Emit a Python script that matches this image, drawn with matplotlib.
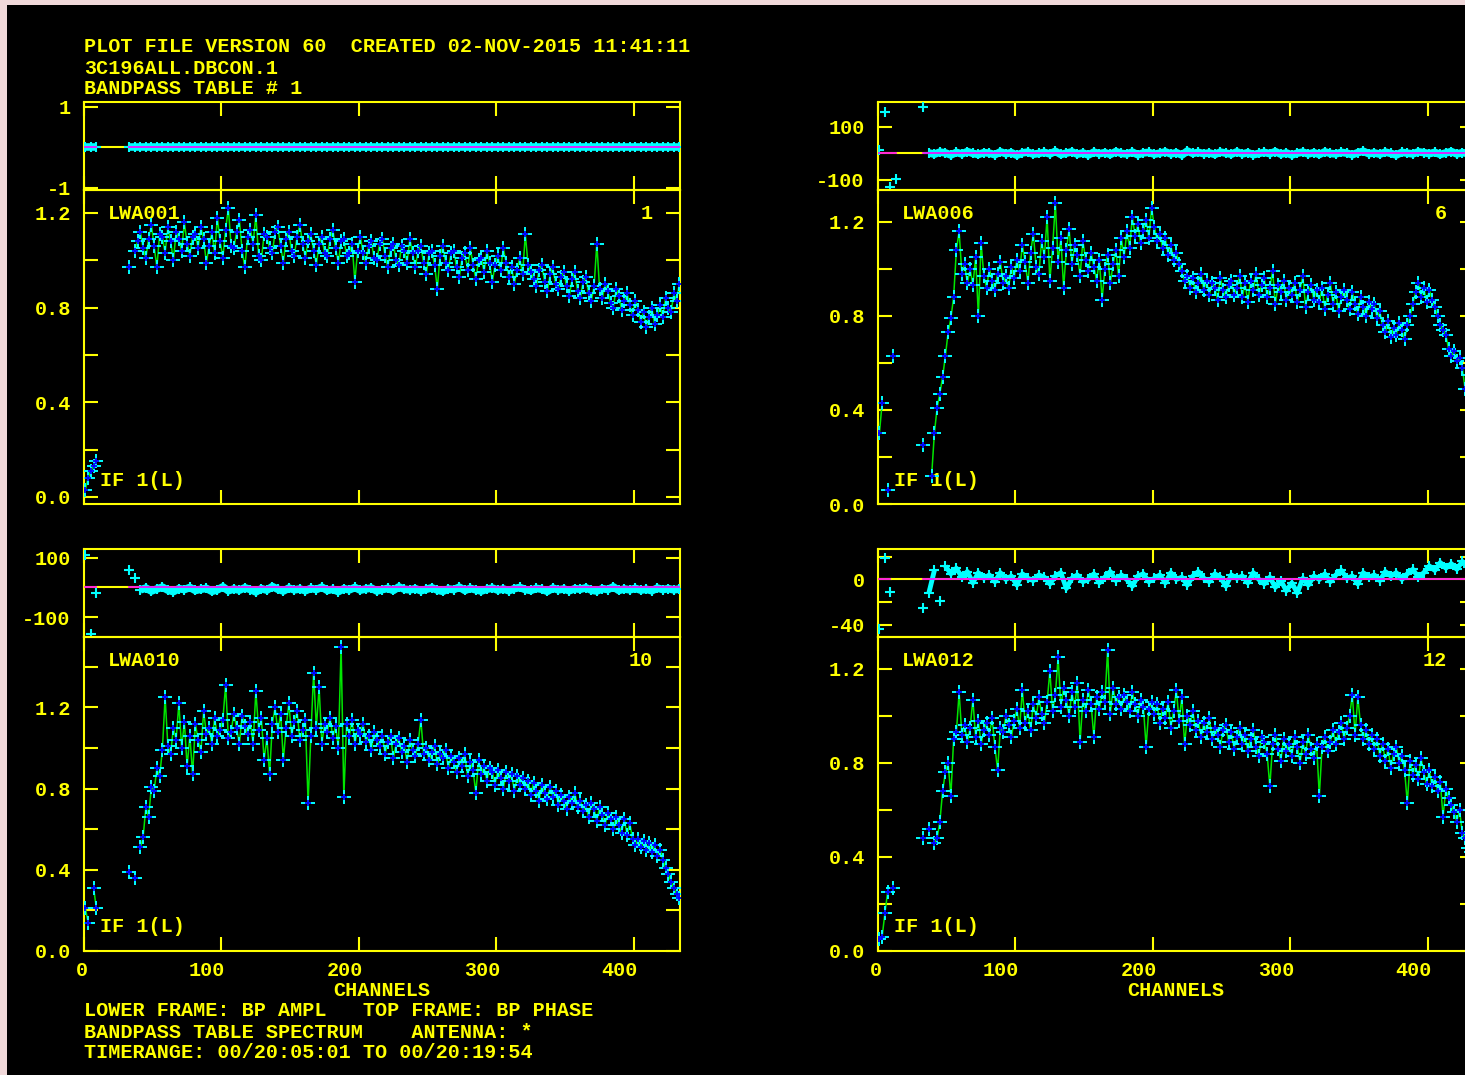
import numpy as np
import matplotlib.pyplot as plt
from matplotlib.patches import Rectangle
from matplotlib.transforms import ScaledTranslation

nan = np.nan

# channel grids: amplitude every 2nd channel, phase every 4th
amp_channels = np.arange(1, 434, 2)
pha_channels = np.arange(1, 434, 4)

antennas = ['LWA001', 'LWA006', 'LWA010', 'LWA012']
ant_numbers = ['1', '6', '10', '12']

# bandpass amplitude per antenna (one row = 20 channels)
amp_lwa001 = [0.03, 0.08, 0.11, 0.13, 0.15, nan, nan, nan, nan, nan,
              nan, nan, nan, nan, nan, nan, 0.97, nan, 1.04, 1.08,
              1.12, 1.05, 1.01, 1.09, 1.15, 1.06, 0.97, 1.11, 1.10, 1.03,
              1.14, 1.08, 1.00, 1.12, 1.09, 1.04, 1.16, 1.07, 1.02, 1.10,
              1.11, 1.05, 1.14, 1.09, 0.99, 1.06, 1.12, 1.03, 1.18, 1.08,
              1.01, 1.13, 1.22, 1.06, 1.05, 1.12, 1.17, 1.04, 0.97, 1.10,
              1.13, 1.07, 1.19, 1.02, 1.00, 1.11, 1.10, 1.05, 1.03, 1.12,
              1.14, 1.06, 0.99, 1.09, 1.12, 1.04, 1.02, 1.10, 1.15, 1.07,
              1.01, 1.08, 1.11, 1.04, 0.98, 1.07, 1.10, 1.03, 1.02, 1.09,
              1.13, 1.05, 0.99, 1.08, 1.09, 1.02, 1.03, 1.07, 0.91, 1.04,
              1.10, 1.03, 0.99, 1.06, 1.08, 1.01, 1.00, 1.07, 1.09, 1.02,
              0.97, 1.05, 1.07, 1.00, 0.98, 1.06, 1.04, 0.99, 1.09, 1.03,
              0.97, 1.04, 1.06, 0.99, 0.94, 1.03, 1.04, 0.98, 0.88, 1.02,
              1.06, 0.99, 0.96, 1.03, 1.04, 0.97, 0.93, 1.01, 1.03, 0.96,
              1.05, 0.98, 0.92, 1.00, 1.01, 0.95, 1.04, 0.99, 0.91, 0.98,
              1.02, 0.96, 1.05, 0.99, 0.93, 0.97, 0.90, 0.96, 1.01, 0.94,
              1.11, 0.98, 0.95, 0.92, 0.89, 0.96, 0.98, 0.91, 0.87, 0.94,
              0.97, 0.90, 0.88, 0.93, 0.95, 0.89, 0.85, 0.92, 0.95, 0.87,
              0.84, 0.91, 0.93, 0.86, 0.83, 0.89, 1.07, 0.88, 0.84, 0.90,
              0.87, 0.82, 0.80, 0.88, 0.85, 0.79, 0.83, 0.86, 0.81, 0.77,
              0.83, 0.79, 0.74, 0.78, 0.72, 0.76, 0.80, 0.73, 0.77, 0.81,
              0.76, 0.84, 0.80, 0.78, 0.86, 0.83, 0.90]

amp_lwa006 = [0.30, 0.43, nan, 0.06, nan, 0.63, nan, nan, nan, nan,
              nan, nan, nan, nan, nan, nan, 0.25, nan, nan, 0.12,
              0.30, 0.41, 0.47, 0.54, 0.63, 0.73, 0.79, 0.88, 1.08, 1.16,
              0.98, 1.02, 0.94, 1.00, 0.93, 1.05, 0.80, 1.11, 0.97, 0.92,
              1.00, 0.95, 0.91, 0.98, 1.03, 0.94, 0.97, 0.92, 1.01, 0.96,
              1.04, 0.99, 1.10, 1.03, 0.94, 1.07, 1.15, 1.01, 0.98, 1.12,
              1.05, 1.22, 0.95, 1.09, 1.28, 1.03, 1.13, 0.92, 1.08, 1.17,
              1.02, 1.10, 1.06, 0.97, 1.12, 1.04, 0.99, 1.07, 1.01, 0.95,
              1.04, 0.87, 1.00, 1.06, 0.94, 1.02, 1.08, 0.97, 1.13, 1.05,
              1.16, 1.09, 1.22, 1.14, 1.19, 1.11, 1.16, 1.21, 1.13, 1.26,
              1.18, 1.12, 1.15, 1.09, 1.13, 1.06, 1.10, 1.04, 1.07, 1.02,
              0.99, 0.95, 0.97, 0.92, 0.96, 0.90, 0.94, 0.98, 0.91, 0.95,
              0.89, 0.94, 0.92, 0.87, 0.96, 0.91, 0.88, 0.93, 0.95, 0.89,
              0.92, 0.97, 0.88, 0.94, 0.86, 0.95, 0.91, 0.98, 0.89, 0.93,
              0.96, 0.88, 0.92, 0.99, 0.85, 0.93, 0.90, 0.95, 0.87, 0.92,
              0.89, 0.94, 0.86, 0.91, 0.97, 0.84, 0.90, 0.93, 0.87, 0.91,
              0.86, 0.92, 0.83, 0.89, 0.94, 0.85, 0.90, 0.82, 0.88, 0.91,
              0.87, 0.83, 0.90, 0.85, 0.81, 0.88, 0.84, 0.80, 0.86, 0.83,
              0.85, 0.79, 0.82, 0.76, 0.73, 0.78, 0.71, 0.75, 0.72, 0.77,
              0.74, 0.70, 0.76, 0.80, 0.85, 0.90, 0.94, 0.88, 0.92, 0.86,
              0.91, 0.87, 0.84, 0.80, 0.76, 0.74, 0.72, 0.66, 0.63, 0.65,
              0.61, 0.62, 0.58, 0.49, 0.55, 0.47, 0.45]

amp_lwa010 = [0.21, 0.14, nan, 0.31, 0.21, nan, nan, nan, nan, nan,
              nan, nan, nan, nan, nan, nan, 0.39, nan, 0.36, nan,
              0.51, 0.56, 0.71, 0.66, 0.81, 0.79, 0.90, 0.86, 0.99, 1.25,
              1.01, 0.97, 1.10, 1.04, 1.22, 1.00, 1.13, 0.91, 1.06, 0.87,
              1.12, 1.04, 0.98, 1.18, 1.07, 1.10, 1.02, 1.15, 1.06, 1.09,
              1.14, 1.31, 1.05, 1.08, 1.17, 1.10, 1.02, 1.16, 1.11, 1.07,
              1.13, 1.02, 1.28, 1.09, 1.15, 0.94, 1.05, 0.87, 1.12, 1.20,
              1.08, 1.17, 0.94, 1.10, 1.22, 1.06, 1.13, 1.18, 1.04, 1.09,
              1.14, 0.73, 1.06, 1.37, 1.10, 1.30, 1.02, 1.12, 1.08, 1.15,
              1.05, 1.11, 1.00, 1.50, 0.76, 1.12, 1.06, 1.14, 1.02, 1.09,
              1.07, 1.12, 1.03, 1.06, 0.99, 1.08, 1.04, 1.01, 1.06, 0.97,
              1.03, 1.06, 0.95, 1.02, 1.05, 0.98, 1.01, 0.93, 1.04, 0.99,
              0.96, 1.02, 1.14, 0.97, 1.00, 0.94, 0.98, 1.01, 0.92, 0.97,
              0.95, 0.99, 0.90, 0.96, 0.93, 0.88, 0.95, 0.91, 0.97, 0.86,
              0.93, 0.89, 0.78, 0.94, 0.87, 0.91, 0.84, 0.90, 0.88, 0.82,
              0.89, 0.85, 0.80, 0.88, 0.84, 0.87, 0.79, 0.86, 0.82, 0.85,
              0.80, 0.84, 0.77, 0.83, 0.79, 0.74, 0.82, 0.78, 0.75, 0.81,
              0.76, 0.79, 0.72, 0.77, 0.74, 0.70, 0.76, 0.73, 0.78, 0.71,
              0.74, 0.69, 0.72, 0.66, 0.73, 0.70, 0.64, 0.71, 0.67, 0.62,
              0.68, 0.65, 0.60, 0.66, 0.62, 0.58, 0.65, 0.57, 0.63, 0.55,
              0.52, 0.55, 0.51, 0.54, 0.50, 0.53, 0.49, 0.52, 0.47, 0.50,
              0.45, 0.41, 0.38, 0.34, 0.31, 0.28, 0.26]

amp_lwa012 = [0.05, 0.06, 0.16, 0.25, nan, 0.27, nan, nan, nan, nan,
              nan, nan, nan, nan, nan, nan, 0.48, nan, 0.52, nan,
              0.46, 0.48, 0.55, 0.68, 0.76, 0.80, 0.66, 0.90, 0.93, 1.10,
              0.92, 0.96, 0.89, 0.95, 1.07, 0.91, 0.98, 0.88, 0.94, 0.97,
              0.92, 0.99, 0.87, 0.77, 0.95, 0.93, 1.00, 0.96, 0.91, 0.98,
              1.03, 0.95, 1.11, 0.97, 1.02, 0.94, 1.05, 0.99, 1.08, 1.01,
              0.97, 1.06, 1.19, 1.02, 1.09, 1.25, 1.04, 1.12, 1.07, 1.00,
              1.10, 1.04, 1.14, 0.89, 1.07, 1.02, 1.11, 1.05, 0.91, 1.08,
              1.03, 1.10, 1.06, 1.28, 1.01, 1.12, 1.05, 1.08, 1.03, 1.09,
              1.06, 1.02, 1.10, 1.05, 1.00, 1.07, 1.04, 0.87, 1.03, 1.06,
              1.01, 1.05, 0.97, 1.03, 0.99, 1.06, 0.95, 1.02, 1.11, 0.98,
              1.08, 0.88, 1.00, 0.96, 1.02, 0.94, 0.98, 0.91, 0.97, 0.93,
              0.99, 0.90, 0.95, 0.92, 0.87, 0.94, 0.96, 0.89, 0.93, 0.86,
              0.91, 0.95, 0.88, 0.92, 0.85, 0.90, 0.94, 0.87, 0.83, 0.91,
              0.89, 0.84, 0.70, 0.88, 0.92, 0.86, 0.81, 0.90, 0.85, 0.88,
              0.83, 0.91, 0.87, 0.80, 0.89, 0.84, 0.92, 0.86, 0.82, 0.88,
              0.66, 0.87, 0.91, 0.85, 0.89, 0.94, 0.88, 0.93, 0.97, 0.90,
              0.95, 1.00, 1.09, 0.92, 1.08, 0.96, 0.90, 0.94, 0.88, 0.92,
              0.86, 0.90, 0.83, 0.88, 0.81, 0.86, 0.78, 0.84, 0.87, 0.80,
              0.83, 0.77, 0.63, 0.81, 0.75, 0.79, 0.73, 0.82, 0.76, 0.71,
              0.77, 0.70, 0.74, 0.68, 0.72, 0.57, 0.69, 0.65, 0.62, 0.59,
              0.55, 0.60, 0.50, 0.48, 0.44, 0.42, 0.40]

# bandpass phase per antenna (LWA001 is the reference antenna)
pha_lwa001 = [0.0] * 3 + [nan] * 5 + [0.0] * 101

pha_lwa006 = [13, 157, -126, -96, nan, nan, nan, nan, 175, 2,
              -3, 5, 2, -6, 4, -2, 7, 0, -4, 3,
              1, -5, 6, -1, 3, -7, 2, 5, -3, 0,
              4, -2, 8, -4, 1, 6, -3, 2, -6, 5,
              -1, 3, -4, 7, 0, -2, 5, -5, 2, 4,
              -3, 1, 6, -2, 3, -6, 9, 0, 4, -1,
              2, -4, 5, 1, -3, 6, -2, 3, -5, 0,
              4, -1, 7, -3, 2, -6, 1, 5, -2, 3,
              -4, 6, 0, -2, 4, 1, -5, 3, 8, -1,
              2, -3, 5, 0, -6, 4, 1, -2, 6, 3,
              -1, 4, -4, 2, 7, -2, 3, 0, 5]

pha_lwa010 = [108, -155, -17, nan, nan, nan, nan, nan, 58, 31,
              -8, -2, -12, -5, 1, -9, -14, -4, -7, 0,
              -10, -6, -3, -13, -8, 2, -11, -5, -9, -1,
              -7, -15, -4, -9, 3, -6, -12, -2, -8, -5,
              -11, -3, -7, 1, -10, -6, -14, -4, -8, 0,
              -9, -5, -2, -12, -7, -3, -10, 2, -6, -8,
              -4, -11, -6, -1, -9, -13, -5, -7, 1, -10,
              -3, -8, -12, -6, -2, -9, -5, -11, -4, 0,
              -7, -10, -3, -6, -13, -2, -8, -5, -11, -4,
              -6, -1, -9, -12, -4, -7, 2, -10, -5, -8,
              -3, -9, -6, -11, -2, -7, -4, -8, -5]

pha_lwa012 = [-44, 19, -11, nan, nan, nan, nan, nan, -25, -12,
              8, -19, 12, 5, 10, 2, 7, -3, 6, 1,
              4, -2, 6, 0, 3, -5, 5, 1, -1, 4,
              2, -4, 3, 6, -8, 1, 4, -2, 0, 5,
              -3, 2, 7, -1, 4, 0, -6, 3, 5, -2,
              1, 4, -3, 6, 0, 2, -5, 3, 7, 1,
              -2, 5, 2, -6, 4, 1, 3, -3, 6, 0,
              -4, 2, -7, -1, -10, -3, -12, 1, -5, 3,
              0, 5, -2, 4, 8, 1, 3, -4, 6, 2,
              4, -1, 7, 3, 6, 0, 5, 9, 2, 6,
              12, 8, 15, 10, 14, 9, 16, 11, 13]

amp_series = [amp_lwa001, amp_lwa006, amp_lwa010, amp_lwa012]
pha_series = [pha_lwa001, pha_lwa006, pha_lwa010, pha_lwa012]

x_ticks = [0, 100, 200, 300, 400]
x_tick_labels = ['0', '100', '200', '300', '400']
amp_ticks = [0.0, 0.2, 0.4, 0.6, 0.8, 1.0, 1.2, 1.4]
amp_tick_labels = ['0.0', '', '0.4', '', '0.8', '', '1.2', '']
pha_ticks = [[-1, 1], [-100, 100], [-100, 100], [-40, -20, 0, 20]]
pha_tick_labels = [['-1', '1'], ['-100', '100'], ['-100', '100'], ['-40', '', '0', '']]

header = ['PLOT FILE VERSION 60  CREATED 02-NOV-2015 11:41:11',
          '3C196ALL.DBCON.1',
          'BANDPASS TABLE # 1']
footer = ['LOWER FRAME: BP AMPL   TOP FRAME: BP PHASE',
          'BANDPASS TABLE SPECTRUM    ANTENNA: *',
          'TIMERANGE: 00/20:05:01 TO 00/20:19:54']

# ---- styling / layout ----
YEL = '#ffff00'
plt.rcParams['font.family'] = ['Liberation Mono', 'DejaVu Sans Mono']
plt.rcParams['font.size'] = 14.5
plt.rcParams['font.weight'] = 'bold'

W, H = 1465, 1075
fig = plt.figure(figsize=(W / 100, H / 100), dpi=100, facecolor='#f1d9da')
fig.add_artist(Rectangle((7 / W, 0), 1, 1 - 5 / H, transform=fig.transFigure,
                         facecolor='black', edgecolor='none', zorder=0))

def rect(x0, y_top, y_bot, width=596):
    return [x0 / W, 1 - y_bot / H, width / W, (y_bot - y_top) / H]

# (left px, phase top, split, amp bottom, amp ylim, phase ylim, band cut, band lw, bottom row)
panels = [
    (84, 102, 190, 504, (-0.03, 1.297), (-1.05, 1.12), 0.2, 5.5, False),
    (878, 102, 190, 504, (0.0, 1.336), (-138, 194), 25, 5.5, False),
    (84, 549, 637, 951, (0.0, 1.547), (-166, 129), 23, 5.5, True),
    (878, 549, 637, 951, (0.0, 1.336), (-51, 27), 17, 3.5, True),
]

def style(ax):
    ax.set_facecolor('none')
    for sp in ax.spines.values():
        sp.set_color(YEL)
        sp.set_linewidth(1.5)
    ax.tick_params(direction='in', length=10, width=1.5, color=YEL,
                   labelcolor=YEL, top=True, right=True, labelsize=14.5)
    ax.tick_params(axis='y', pad=9.5)
    ax.tick_params(axis='x', pad=7)
    ax.set_xticks(x_ticks)
    ax.set_xlim(0, 433.5)

for k, (x0, yt, ym, yb, alim, plim, cut, blw, bottom_row) in enumerate(panels):
    amp = np.array(amp_series[k], dtype=float)
    pha = np.array(pha_series[k], dtype=float)

    # top frame: phase
    axp = fig.add_axes(rect(x0, yt, ym))
    style(axp)
    axp.set_yticks(pha_ticks[k], pha_tick_labels[k])
    axp.set_ylim(*plim)
    axp.tick_params(labelbottom=False)
    axp.axhline(0, color=YEL, lw=1.5, zorder=1)
    band = np.where(np.abs(pha) <= cut, pha, nan)
    axp.plot(pha_channels, band, color='#00ffff', lw=blw, zorder=2,
             solid_capstyle='butt')
    axp.plot(pha_channels, pha, ls='none', marker='+', ms=7.5, mew=1.5,
             color='#00ffff', zorder=3)
    axp.plot(pha_channels, np.where(np.isnan(pha), nan, 0.0), color='#ff00ff',
             lw=1.2, zorder=4)

    # lower frame: amplitude
    axa = fig.add_axes(rect(x0, ym, yb))
    style(axa)
    axa.set_yticks(amp_ticks, amp_tick_labels)
    axa.set_ylim(*alim)
    axa.plot(amp_channels, amp, color='#00e600', lw=1.1, zorder=2)
    axa.plot(amp_channels, amp, ls='none', marker='+', ms=9.5, mew=1.4,
             color='#00ffff', zorder=3)
    axa.plot(amp_channels, amp, ls='none', marker='+', ms=5, mew=1.3,
             color='#0000ff', zorder=4)
    if bottom_row:
        axa.set_xticks(x_ticks, x_tick_labels)
        axa.set_xlim(0, 433.5)
        for lab in axa.get_xticklabels():
            lab.set_ha('right')
            lab.set_transform(lab.get_transform()
                              + ScaledTranslation(0.04, 0, fig.dpi_scale_trans))
        fig.text((x0 + 298) / W, 1 - 990 / H, 'CHANNELS', color=YEL,
                 ha='center', va='center')
    else:
        axa.tick_params(labelbottom=False)

    h = yb - ym
    axa.text(24 / 596, 1 - 23 / h, antennas[k], transform=axa.transAxes,
             color=YEL, ha='left', va='center', zorder=1)
    axa.text(1 - 27 / 596, 1 - 23 / h, ant_numbers[k], transform=axa.transAxes,
             color=YEL, ha='right', va='center', zorder=1)
    axa.text(16 / 596, 24 / h, 'IF 1(L)', transform=axa.transAxes,
             color=YEL, ha='left', va='center', zorder=1)

for i, line in enumerate(header):
    fig.text(84 / W, 1 - (47 + 21 * i) / H, line, color=YEL,
             ha='left', va='center')
for i, line in enumerate(footer):
    fig.text(84 / W, 1 - (1011 + 21 * i) / H, line, color=YEL,
             ha='left', va='center')

fig.savefig('out.png', dpi=100, facecolor=fig.get_facecolor())
